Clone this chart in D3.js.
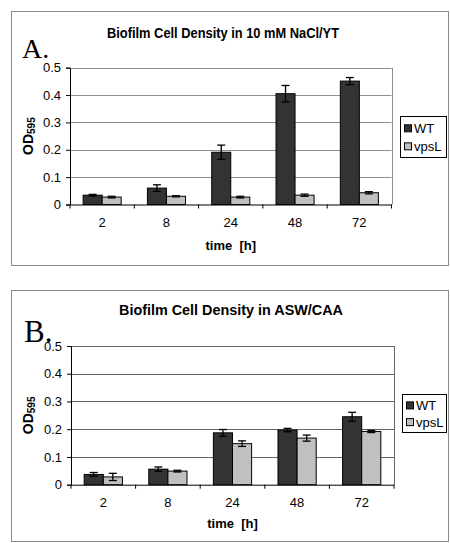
<!DOCTYPE html>
<html><head><meta charset="utf-8">
<script src="https://cdn.jsdelivr.net/npm/d3@7"></script>
<style>body{margin:0;background:#fff}svg{display:block}</style>
</head><body>
<script>
const categories = ["2","8","24","48","72"];
const seriesNames = ["WT","vpsL"];
const yTicks = [0,0.1,0.2,0.3,0.4,0.5];
// Panel A: 10 mM NaCl/YT
const wtA = [0.034,0.060,0.191,0.405,0.451];
const wtAerr = [0.003,0.012,0.026,0.030,0.013];
const vpsA = [0.027,0.030,0.027,0.034,0.043];
const vpsAerr = [0.003,0.002,0.003,0.004,0.004];
// Panel B: ASW/CAA
const wtB = [0.037,0.056,0.187,0.197,0.245];
const wtBerr = [0.007,0.008,0.012,0.006,0.016];
const vpsB = [0.028,0.049,0.148,0.168,0.192];
const vpsBerr = [0.013,0.003,0.010,0.011,0.004];

const colors = {WT:"#333333", vpsL:"#c0c0c0"};
const SANS = "Arial, 'Liberation Sans', sans-serif";

const svg = d3.select("body").append("svg").attr("width",450).attr("height",543);

function panel(cfg){
  const g = svg.append("g");
  g.append("rect").attr("x",cfg.box[0]+0.5).attr("y",cfg.box[1]+0.5)
    .attr("width",cfg.box[2]).attr("height",cfg.box[3])
    .attr("fill","#fff").attr("stroke","#8c8c8c").attr("stroke-width",1);
  const x = d3.scaleBand().domain(categories).range([cfg.pl,cfg.pr]);
  const x1 = d3.scaleBand().domain(seriesNames).range([0,x.bandwidth()]).paddingInner(0).paddingOuter(0.69);
  const y = d3.scaleLinear().domain([0,0.5]).range([cfg.pb,cfg.pt]);
  // grid
  g.selectAll(".grid").data(yTicks.slice(1)).join("line")
    .attr("x1",cfg.pl).attr("x2",cfg.pr).attr("y1",d=>Math.round(y(d))+0.5).attr("y2",d=>Math.round(y(d))+0.5)
    .attr("stroke",cfg.grid).attr("stroke-width",1);
  g.append("line").attr("x1",Math.round(cfg.pr)+0.5).attr("x2",Math.round(cfg.pr)+0.5)
    .attr("y1",cfg.pt).attr("y2",cfg.pb).attr("stroke",cfg.grid);
  // bars
  const data = categories.map((c,i)=>[
    {c, s:"WT", v:cfg.wt[i], e:cfg.wte[i]},
    {c, s:"vpsL", v:cfg.vps[i], e:cfg.vpse[i]}]).flat();
  g.selectAll(".bar").data(data).join("rect")
    .attr("x",d=>x(d.c)+x1(d.s)).attr("width",x1.bandwidth())
    .attr("y",d=>y(d.v)).attr("height",d=>y(0)-y(d.v))
    .attr("fill",d=>colors[d.s]).attr("stroke","#000").attr("stroke-width",1);
  // error bars
  const eb = g.selectAll(".eb").data(data).join("g");
  const cx = d=>x(d.c)+x1(d.s)+x1.bandwidth()/2;
  eb.append("line").attr("x1",cx).attr("x2",cx).attr("y1",d=>y(d.v+d.e)).attr("y2",d=>y(d.v-d.e))
    .attr("stroke","#000").attr("stroke-width",1.3);
  eb.append("line").attr("x1",d=>cx(d)-4).attr("x2",d=>cx(d)+4).attr("y1",d=>y(d.v+d.e)).attr("y2",d=>y(d.v+d.e))
    .attr("stroke","#000").attr("stroke-width",1.3);
  eb.append("line").attr("x1",d=>cx(d)-4).attr("x2",d=>cx(d)+4).attr("y1",d=>y(d.v-d.e)).attr("y2",d=>y(d.v-d.e))
    .attr("stroke","#000").attr("stroke-width",1.3);
  // y axis
  const ya = g.append("g").attr("transform",`translate(${cfg.pl},0)`)
    .call(d3.axisLeft(y).tickValues(yTicks).tickFormat(d=>d===0?"0":d3.format(".1f")(d)).tickSize(4).tickPadding(5));
  ya.select(".domain").attr("stroke","#000");
  ya.selectAll("text").attr("font-family",SANS).attr("font-size",13).attr("fill","#000");
  // x axis
  const xa = g.append("g").attr("transform",`translate(0,${cfg.pb})`)
    .call(d3.axisBottom(x).tickSize(0).tickPadding(13));
  xa.select(".domain").attr("stroke","#000");
  xa.selectAll("text").attr("font-family",SANS).attr("font-size",13).attr("fill","#000");
  // category boundary ticks
  g.selectAll(".ct").data(d3.range(categories.length+1)).join("line")
    .attr("x1",i=>cfg.pl+i*x.step()).attr("x2",i=>cfg.pl+i*x.step())
    .attr("y1",cfg.pb).attr("y2",cfg.pb+4).attr("stroke","#000");
  // title
  g.append("text").attr("x",cfg.titleX).attr("y",cfg.titleY).attr("text-anchor","middle")
    .attr("font-family",SANS).attr("font-weight","bold").attr("font-size",14)
    .attr("textLength",cfg.titleW).attr("lengthAdjust","spacingAndGlyphs")
    .text(cfg.title);
  // x label
  g.append("text").attr("x",(cfg.pl+cfg.pr)/2).attr("y",cfg.xlabY).attr("text-anchor","middle")
    .attr("font-family",SANS).attr("font-weight","bold").attr("font-size",13)
    .attr("style","white-space:pre").text("time  [h]");
  // y label
  const yl = g.append("text").attr("transform",`translate(${cfg.ylabX},${(cfg.pt+cfg.pb)/2}) rotate(-90)`)
    .attr("text-anchor","middle")
    .attr("font-family",SANS).attr("font-weight","bold").attr("font-size",14);
  yl.append("tspan").text("OD");
  yl.append("tspan").attr("font-size",10).attr("dy",2).text("595");
  // panel letter
  g.append("text").attr("x",cfg.letter[0]).attr("y",cfg.letter[1])
    .attr("font-family","'Liberation Serif','Times New Roman',serif").attr("font-size",cfg.letter[2])
    .text(cfg.letterText);
  // legend
  const lg = g.append("g");
  lg.append("rect").attr("x",cfg.leg[0]+0.5).attr("y",cfg.leg[1]+0.5).attr("width",cfg.leg[2]).attr("height",cfg.leg[3])
    .attr("fill","#fff").attr("stroke","#000");
  seriesNames.forEach((s,i)=>{
    const yy = cfg.leg[1]+cfg.leg[3]*(i===0?0.3:0.74);
    lg.append("rect").attr("x",cfg.leg[0]+4.5).attr("y",yy-3.5).attr("width",7).attr("height",7)
      .attr("fill",colors[s]).attr("stroke","#000");
    lg.append("text").attr("x",cfg.leg[0]+14).attr("y",yy+4.5)
      .attr("font-family",SANS).attr("font-size",13).text(s);
  });
}

panel({box:[11,11,437,254], pl:70, pr:391.5, pt:67.7, pb:204.5, grid:"#8f8f8f",
  wt:wtA, wte:wtAerr, vps:vpsA, vpse:vpsAerr,
  title:"Biofilm Cell Density in 10 mM NaCl/YT", titleX:223, titleY:38, titleW:232, xlabY:250, ylabX:33,
  letter:[22,58,28], letterText:"A.", leg:[400,116,46,41]});
panel({box:[11,290,437,251], pl:71, pr:394, pt:346, pb:484.7, grid:"#666",
  wt:wtB, wte:wtBerr, vps:vpsB, vpse:vpsBerr,
  title:"Biofilm Cell Density in ASW/CAA", titleX:231, titleY:315, titleW:224, xlabY:528, ylabX:33,
  letter:[24,342,31], letterText:"B.", leg:[402,394,44,38]});
</script>
</body></html>
